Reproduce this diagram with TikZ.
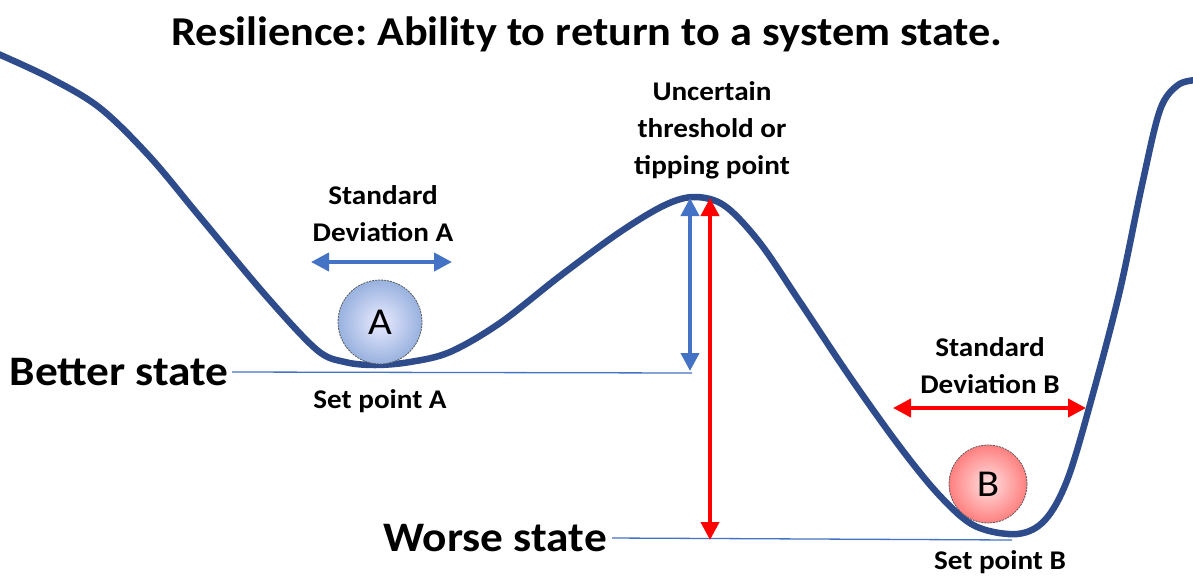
\documentclass[tikz,border=0pt]{standalone}
\usepackage{fontspec}
\setmainfont{Carlito}[FakeStretch=1.08]
\usetikzlibrary{arrows.meta}
\frenchspacing
\definecolor{curveblue}{HTML}{2E4C8C}
\definecolor{arrblue}{HTML}{4472C4}
\definecolor{arrred}{HTML}{FF0000}
\definecolor{lineblue}{HTML}{4472C4}
\tikzset{
  lbl/.style={font=\bfseries\fontsize{27}{37}\selectfont, align=center, text=black, inner sep=0pt},
  biglbl/.style={font=\bfseries\fontsize{42}{48}\selectfont, inner sep=0pt, anchor=east},
  ball/.style={circle, minimum size=84pt, inner sep=0pt, draw=black!65, line width=0.8pt, dash pattern=on 2pt off 1pt, font=\fontsize{38}{42}\selectfont},
  levelline/.style={draw=lineblue, line width=1.3pt},
  dblarrow/.style={line width=4pt, {Triangle[length=18pt,width=18pt]}-{Triangle[length=18pt,width=18pt]}},
}
\begin{document}
\begin{tikzpicture}[x=1pt,y=-1pt]
\useasboundingbox (0,0) rectangle (1193,579);
% landscape curve
\draw[curveblue, line width=6.5pt, line cap=round] plot[smooth, tension=0.55] coordinates {
 (-4,53) (50,78) (100,108) (150,157) (200,217) (267,297) (317,350) (345,362) (375,365) (410,362) (450,352) (500,323) (560,276) (620,232) (665,205) (695,197) (725,206) (760,243) (800,302) (850,377) (900,447) (940,496) (975,526) (1017,534) (1045,520) (1068,478) (1094,390) (1120,290) (1142,185) (1160,110) (1178,85) (1197,80)};
% title
\node[font=\bfseries\fontsize{41}{46}\selectfont, inner sep=0pt] (title) at (587,34) {Resilience: Ability to return to a system state.};
% level lines
\node[biglbl] (better) at (229,372) {Better state};
\node[biglbl] (worse) at (607,538) {Worse state};
\coordinate (bend) at (692,373);
\coordinate (wend) at (1012,540);
\draw[levelline] (better.east) ++(3pt,0) coordinate (bstart) -- (bend);
\draw[levelline] (worse.east) ++(5pt,0) coordinate (wstart) -- (wend);
% vertical arrows
\coordinate (peakb) at (690,198);
\coordinate (peakr) at (710,198);
\coordinate (bbot) at (690,371);
\coordinate (rbot) at (710,540);
\draw[dblarrow, arrblue] (peakb) -- (bbot);
\draw[dblarrow, arrred] (peakr) -- (rbot);
% horizontal arrows
\coordinate (sal) at (311,262);
\coordinate (sar) at (452,262);
\coordinate (sbl) at (893,408);
\coordinate (sbr) at (1086,408);
\draw[dblarrow, arrblue] (sal) -- (sar);
\draw[dblarrow, arrred] (sbl) -- (sbr);
% balls
\node[ball, inner color=blue!8, outer color=arrblue!55] (ballA) at (380,322) {A};
\node[ball, inner color=red!12, outer color=red!50, minimum size=78pt] (ballB) at (988,484) {B};
% labels
\node[lbl] (sdA) at (383,214) {Standard\\Deviation A};
\node[lbl] (spA) at (380,401) {Set point A};
\node[lbl] (tip) at (712,130) {Uncertain\\threshold or\\tipping point};
\node[lbl] (sdB) at (990,366) {Standard\\Deviation B};
\node[lbl] (spB) at (1000,562) {Set point B};
\end{tikzpicture}
\end{document}
